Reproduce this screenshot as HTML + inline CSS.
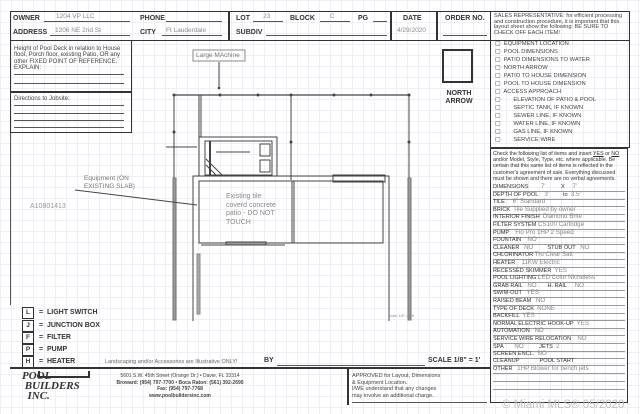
<!DOCTYPE html><html><head><style>
body{margin:0;width:640px;height:414px;overflow:hidden;background:#fff;font-family:"Liberation Sans",sans-serif;position:relative;color:#222}
.a{position:absolute}
.b{font-weight:bold;font-size:7px;color:#333}
.h{font-family:"Liberation Sans",sans-serif;color:#888;font-size:6.5px}
.ln{position:absolute;border-bottom:1px solid #555}
.cl{position:absolute;left:495px;font-size:5.8px;color:#444;white-space:nowrap}
.cr{position:absolute;left:493px;font-size:5.6px;color:#333;white-space:nowrap;width:132px;border-bottom:0.6px solid #999;line-height:7px}
.cr span{color:#888;font-size:6.2px}
.lg{position:absolute;left:22px;font-size:7px;font-weight:bold;color:#333}
.lg i{display:inline-block;width:10px;height:10px;border:1px solid #333;font-style:normal;text-align:center;line-height:10px;font-size:6.5px;margin-right:5px}
</style></head><body>
<div class="a" style="left:0;top:0;width:640px;height:414px;opacity:.35;background-image:linear-gradient(#c9d3de 1px,transparent 1px),linear-gradient(90deg,#c9d3de 1px,transparent 1px);background-size:11px 11px"></div>
<div class="a" style="left:10px;top:11px;width:620px;height:30px;border:1.5px solid #333;border-right:none;border-bottom:1.5px solid #333;box-sizing:border-box"></div>
<div class="a" style="left:228px;top:11px;width:1.5px;height:30px;background:#333"></div>
<div class="a" style="left:390px;top:11px;width:1.5px;height:30px;background:#333"></div>
<div class="a" style="left:436px;top:11px;width:1.5px;height:30px;background:#333"></div>
<div class="a b" style="left:13px;top:15px">OWNER</div><div class="ln" style="left:44px;top:14px;width:86px;height:7px"></div><div class="a h" style="left:56px;top:13px">1204 VP LLC</div>
<div class="a b" style="left:13px;top:29px">ADDRESS</div><div class="ln" style="left:50px;top:28px;width:80px;height:7px"></div><div class="a h" style="left:55px;top:27px">1206 NE 2nd St</div>
<div class="a b" style="left:140px;top:15px">PHONE</div><div class="ln" style="left:166px;top:14px;width:56px;height:7px"></div>
<div class="a b" style="left:140px;top:29px">CITY</div><div class="ln" style="left:162px;top:28px;width:60px;height:7px"></div><div class="a h" style="left:166px;top:27px">Ft Lauderdale</div>
<div class="a b" style="left:236px;top:15px">LOT</div><div class="ln" style="left:253px;top:14px;width:30px;height:7px"></div><div class="a h" style="left:263px;top:13px">23</div>
<div class="a b" style="left:290px;top:15px">BLOCK</div><div class="ln" style="left:320px;top:14px;width:30px;height:7px"></div><div class="a h" style="left:330px;top:13px">C</div>
<div class="a b" style="left:358px;top:15px">PG</div><div class="ln" style="left:373px;top:14px;width:14px;height:7px"></div>
<div class="a b" style="left:236px;top:29px">SUBDIV</div><div class="ln" style="left:266px;top:28px;width:121px;height:7px"></div>
<div class="a b" style="left:403px;top:15px">DATE</div><div class="a h" style="left:397px;top:27px">4/29/2020</div>
<div class="a b" style="left:445px;top:15px">ORDER NO.</div><div class="ln" style="left:443px;top:28px;width:44px;height:7px"></div>
<div class="a" style="left:490px;top:11px;width:140px;height:137px;border:1.5px solid #333;box-sizing:border-box"></div>
<div class="a" style="left:494px;top:14px;width:134px;font-size:5.6px;line-height:5.6px;color:#444">SALES REPRESENTATIVE: for efficient processing and construction procedure, it is important that this layout sheet show the following: BE SURE TO CHECK OFF EACH ITEM!</div>
<div class="cl" style="top:41px">▢&nbsp; EQUIPMENT LOCATION</div>
<div class="cl" style="top:49px">▢&nbsp; POOL DIMENSIONS</div>
<div class="cl" style="top:57px">▢&nbsp; PATIO DIMENSIONS TO WATER</div>
<div class="cl" style="top:65px">▢&nbsp; NORTH ARROW</div>
<div class="cl" style="top:73px">▢&nbsp; PATIO TO HOUSE DIMENSION</div>
<div class="cl" style="top:81px">▢&nbsp; POOL TO HOUSE DIMENSION</div>
<div class="cl" style="top:89px">▢&nbsp; ACCESS APPROACH</div>
<div class="cl" style="top:97px">▢&nbsp;&nbsp;&nbsp;&nbsp;&nbsp;&nbsp;&nbsp; ELEVATION OF PATIO &amp; POOL</div>
<div class="cl" style="top:105px">▢&nbsp;&nbsp;&nbsp;&nbsp;&nbsp;&nbsp;&nbsp; SEPTIC TANK, IF KNOWN</div>
<div class="cl" style="top:113px">▢&nbsp;&nbsp;&nbsp;&nbsp;&nbsp;&nbsp;&nbsp; SEWER LINE, IF KNOWN</div>
<div class="cl" style="top:121px">▢&nbsp;&nbsp;&nbsp;&nbsp;&nbsp;&nbsp;&nbsp; WATER LINE, IF KNOWN</div>
<div class="cl" style="top:129px">▢&nbsp;&nbsp;&nbsp;&nbsp;&nbsp;&nbsp;&nbsp; GAS LINE, IF KNOWN</div>
<div class="cl" style="top:137px">▢&nbsp;&nbsp;&nbsp;&nbsp;&nbsp;&nbsp;&nbsp; SERVICE WIRE</div>
<div class="a" style="left:442px;top:49px;width:31px;height:34px;border:2px solid #333;box-sizing:border-box"></div>
<div class="a b" style="left:444px;top:90px;text-align:center;width:30px;line-height:8px">NORTH<br>ARROW</div>
<div class="a" style="left:10px;top:41px;width:122px;height:51px;border:1.5px solid #333;border-top:none;box-sizing:border-box"></div>
<div class="a" style="left:14px;top:46px;width:115px;font-size:6px;line-height:6.3px;color:#444">Height of Pool Deck in relation to House floor, Porch floor, existing Patio, OR any other FIXED POINT OF REFERENCE. EXPLAIN:</div>
<div class="ln" style="left:14px;top:73px;width:110px;height:1px"></div><div class="ln" style="left:14px;top:82px;width:110px;height:1px"></div>
<div class="a" style="left:10px;top:92px;width:122px;height:41px;border:1.5px solid #333;box-sizing:border-box"></div>
<div class="a" style="left:14px;top:96px;font-size:6px;color:#444">Directions to Jobsite:</div>
<div class="ln" style="left:14px;top:104px;width:110px;height:1px"></div><div class="ln" style="left:14px;top:112px;width:110px;height:1px"></div><div class="ln" style="left:14px;top:119px;width:110px;height:1px"></div><div class="ln" style="left:14px;top:126px;width:110px;height:1px"></div>
<div class="a" style="left:10px;top:133px;width:1px;height:172px;background:#555"></div>
<div class="a" style="left:30px;top:203px;font-size:7px;color:#999">A10801413</div>
<div class="a" style="left:84px;top:175px;font-size:6.5px;color:#777;line-height:8px">Equipment (ON<br>EXISTING SLAB)</div>
<svg class="a" style="left:0;top:0" width="640" height="414">
<g stroke="#444" fill="none" stroke-width="1">
<line x1="174" y1="95" x2="409" y2="95" stroke-width="1.3"/>
<line x1="174" y1="95" x2="174" y2="320"/>
<line x1="409" y1="95" x2="409" y2="320"/>
<line x1="291" y1="95" x2="291" y2="180"/>
<line x1="199" y1="95" x2="199" y2="137"/><line x1="201" y1="95" x2="201" y2="137"/>
<rect x="173" y="178" width="3" height="142" fill="#999" stroke="#777"/>
<rect x="408" y="178" width="3" height="142" fill="#999" stroke="#777"/>
<path d="M193 321 V176 H389 V321"/>
<rect x="199" y="181" width="184" height="62"/>
<line x1="292" y1="181" x2="292" y2="243"/><line x1="294" y1="181" x2="294" y2="243"/>
<rect x="199" y="137" width="78" height="39"/>
<rect x="205" y="141" width="67" height="34"/>
<rect x="260" y="144" width="10" height="12"/><rect x="260" y="160" width="10" height="12"/>
<line x1="210" y1="141" x2="210" y2="175" stroke-width="2"/>
<line x1="206" y1="165" x2="216" y2="175"/><line x1="206" y1="159" x2="222" y2="175"/>
<line x1="216" y1="152" x2="250" y2="152"/>
<line x1="166" y1="147" x2="197" y2="147"/>
<rect x="333" y="175" width="52" height="7"/>
<rect x="226" y="242" width="40" height="3" fill="#999"/>
<line x1="201" y1="245" x2="285" y2="245"/>
<rect x="197" y="254" width="3" height="60" fill="#aaa" stroke="#888"/>
<line x1="75" y1="190" x2="197" y2="205"/>
<line x1="219" y1="62" x2="219" y2="88"/>
<rect x="193" y="50" width="52" height="11" stroke="#888"/>
</g>
<g fill="#444"><circle cx="174" cy="95" r="1.5"/><circle cx="220" cy="95" r="1.5"/><circle cx="258" cy="95" r="1.5"/><circle cx="291" cy="95" r="1.5"/><circle cx="334" cy="95" r="1.5"/><circle cx="371" cy="95" r="1.5"/><circle cx="409" cy="95" r="1.5"/><circle cx="219" cy="88" r="1.3"/><circle cx="174" cy="132" r="1.5"/><circle cx="291" cy="142" r="1.5"/><circle cx="409" cy="142" r="1.5"/></g>
</svg>
<div class="a" style="left:196px;top:52px;font-size:6.5px;color:#777">Large MAchine</div>
<div class="a" style="left:226px;top:193px;font-size:7px;color:#888;line-height:8.5px">Existing tile<br>coverd concrete<br>patio - DO NOT<br>TOUCH</div>
<div class="a" style="left:388px;top:314px;font-size:3.5px;color:#888">Scale: 1/8" = 1 ft</div>
<div class="lg" style="top:307px"><i>L</i>= &nbsp;LIGHT SWITCH</div>
<div class="lg" style="top:320px"><i>J</i>= &nbsp;JUNCTION BOX</div>
<div class="lg" style="top:332px"><i>F</i>= &nbsp;FILTER</div>
<div class="lg" style="top:344px"><i>P</i>= &nbsp;PUMP</div>
<div class="lg" style="top:356px"><i>H</i>= &nbsp;HEATER</div>
<div class="a" style="left:105px;top:359px;font-size:5.5px;color:#666">Landscaping and/or Accessories are Illustrative ONLY!</div>
<div class="a b" style="left:264px;top:357px">BY</div>
<div class="ln" style="left:277px;top:357px;width:148px;height:8px"></div>
<div class="a b" style="left:428px;top:357px">SCALE 1/8" = 1'</div>
<div class="a" style="left:10px;top:367px;width:480px;height:1.5px;background:#333"></div>
<div class="a" style="left:347px;top:367px;width:1.5px;height:38px;background:#333"></div>
<div class="a" style="left:22px;top:371px;font-family:'Liberation Serif',serif;font-weight:bold;font-style:italic;font-size:11px;line-height:10px;color:#333">POOL<br>&nbsp;BUILDERS<br>&nbsp;&nbsp;INC.</div>
<div class="a" style="left:38px;top:371px;width:48px;height:5px;border:2px solid #333;border-top:none"></div>
<div class="a" style="left:95px;top:373px;width:170px;text-align:center;font-size:5px;line-height:6.5px;color:#444;white-space:nowrap">5601 S.W. 45th Street (Orange Dr.) • Davie, FL 33314<br><b>Broward: (954) 797-7700 • Boca Raton: (561) 392-2690<br>Fax: (954) 797-7768<br>www.poolbuildersinc.com</b></div>
<div class="a" style="left:352px;top:373px;font-size:5.5px;line-height:6.5px;color:#444">APPROVED for Layout, Dimensions<br>&amp; Equipment Location.<br>I/WE understand that any changes<br>may involve an additional charge.</div>
<div class="ln" style="left:352px;top:401px;width:135px;height:1px"></div>
<div class="a" style="left:490px;top:148px;width:138px;height:255px;border:1.5px solid #333;box-sizing:border-box"></div>
<div class="a" style="left:493px;top:151px;width:134px;font-size:5.3px;line-height:6.2px;color:#333">Check the following list of items and insert <u>YES</u> or <u>NO</u> and/or Model, Style, Type, etc. where applicable. Be certain that this same list of items is reflected in the customer's agreement of sale. Everything discussed must be shown and there are no verbal agreements.</div>
<div class="cr" style="top:183px">DIMENSIONS &nbsp;&nbsp;&nbsp;&nbsp;&nbsp;&nbsp;&nbsp;<span>7'</span>&nbsp;&nbsp;&nbsp;&nbsp;&nbsp;&nbsp;&nbsp;&nbsp;&nbsp; X &nbsp;&nbsp;&nbsp;&nbsp;<span>7'</span></div>
<div class="cr" style="top:190.6px">DEPTH OF POOL &nbsp;&nbsp;&nbsp;<span>3'</span>&nbsp;&nbsp;&nbsp;&nbsp;&nbsp;&nbsp;&nbsp;&nbsp; to &nbsp;<span>3.5'</span></div>
<div class="cr" style="top:198.2px">TILE &nbsp;&nbsp;&nbsp;&nbsp;<span>6" Standard</span></div>
<div class="cr" style="top:205.8px">BRICK &nbsp;<span>Tile Supplied by owner</span></div>
<div class="cr" style="top:213.4px">INTERIOR FINISH &nbsp;<span>Diamond Brite</span></div>
<div class="cr" style="top:221px">FILTER SYSTEM <span>CS100 Cartridge</span></div>
<div class="cr" style="top:228.6px">PUMP &nbsp;&nbsp;&nbsp;<span>Flo Pro 1HP 2 Speed</span></div>
<div class="cr" style="top:236.2px">FOUNTAIN &nbsp;&nbsp;&nbsp;<span>NO</span></div>
<div class="cr" style="top:243.8px">CLEANER &nbsp;&nbsp;<span>NO</span>&nbsp;&nbsp;&nbsp;&nbsp;&nbsp;&nbsp;&nbsp;&nbsp; STUB OUT &nbsp;&nbsp;<span>NO</span></div>
<div class="cr" style="top:251.4px">CHLORINATOR <span>Tru Clear Salt</span></div>
<div class="cr" style="top:259px">HEATER &nbsp;&nbsp;&nbsp;<span>11KW Electric</span></div>
<div class="cr" style="top:266.6px">RECESSED SKIMMER &nbsp;<span>YES</span></div>
<div class="cr" style="top:274.2px">POOL LIGHTING <span>LED Color Nicheless</span></div>
<div class="cr" style="top:281.8px">GRAB RAIL &nbsp;&nbsp;<span>NO</span>&nbsp;&nbsp;&nbsp;&nbsp;&nbsp;&nbsp; H. RAIL &nbsp;&nbsp;&nbsp;&nbsp;<span>NO</span></div>
<div class="cr" style="top:289.4px">SWIM-OUT &nbsp;&nbsp;<span>YES</span></div>
<div class="cr" style="top:297px">RAISED BEAM &nbsp;&nbsp;<span>NO</span></div>
<div class="cr" style="top:304.6px">TYPE OF DECK &nbsp;<span>NONE</span></div>
<div class="cr" style="top:312.2px">BACKFILL &nbsp;<span>YES</span></div>
<div class="cr" style="top:319.8px">NORMAL ELECTRIC HOOK-UP &nbsp;<span>YES</span></div>
<div class="cr" style="top:327.4px">AUTOMATION &nbsp;&nbsp;<span>NO</span></div>
<div class="cr" style="top:335px">SERVICE WIRE RELOCATION &nbsp;&nbsp;&nbsp;<span>NO</span></div>
<div class="cr" style="top:342.6px">SPA &nbsp;&nbsp;&nbsp;&nbsp;&nbsp;&nbsp;<span>NO</span>&nbsp;&nbsp;&nbsp;&nbsp;&nbsp;&nbsp;&nbsp;&nbsp;&nbsp; JETS &nbsp;<span>2</span></div>
<div class="cr" style="top:350.2px">SCREEN ENCL. &nbsp;<span>NO</span></div>
<div class="cr" style="top:357.8px">CLEANUP &nbsp;&nbsp;&nbsp;&nbsp;&nbsp;&nbsp;&nbsp;&nbsp;&nbsp;&nbsp;&nbsp; POOL START</div>
<div class="cr" style="top:365.4px">OTHER &nbsp;&nbsp;<span>1HP Blower for bench jets</span></div>
<div class="ln" style="left:493px;top:380px;width:132px;height:1px;border-color:#999"></div>
<div class="ln" style="left:493px;top:388px;width:132px;height:1px;border-color:#999"></div>
<div class="a" style="left:502px;top:399px;font-size:11.5px;color:#bbb;opacity:.9">© Miami MLS® 05/2020</div>
</body></html>
